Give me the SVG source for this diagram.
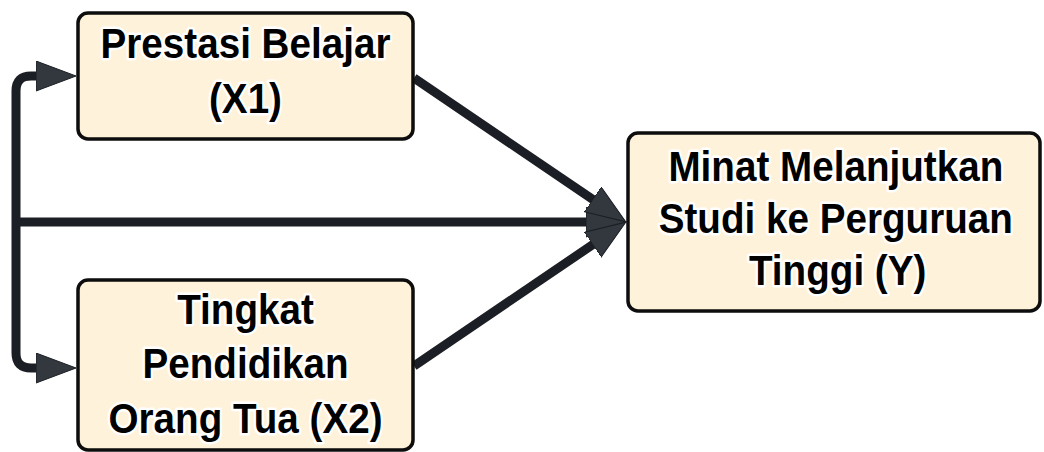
<svg xmlns="http://www.w3.org/2000/svg" width="1044" height="452" viewBox="0 0 1044 452">
<style>
.box{fill:#FFF2DA;stroke:#0d0d0d;stroke-width:3.5}
.lbl{font-family:"Liberation Sans",Arial,sans-serif;font-weight:bold;font-size:42px;fill:#000;stroke:#fff;stroke-width:5;stroke-linejoin:round;paint-order:stroke;text-anchor:middle}
.edge{fill:none;stroke:#1b1e24;stroke-width:9}
</style>
<defs>
<marker id="ah" markerUnits="userSpaceOnUse" markerWidth="42" markerHeight="32" refX="10" refY="15" orient="auto" viewBox="0 0 42 32">
<path d="M0,0 L40,15 L0,30 z" fill="#33383f" stroke="#1b1e24" stroke-width="1"/>
</marker>
</defs>
<rect width="1044" height="452" fill="#fff"/>
<g id="connectors">
<path class="edge" d="M16,222 V91 Q16,76 31,76 H46" marker-end="url(#ah)"/>
<path class="edge" d="M16,222 V353 Q16,368 31,368 H46" marker-end="url(#ah)"/>
<path class="edge" d="M16,222 H596" marker-end="url(#ah)"/>
<path class="edge" d="M414,78 L601,205" marker-end="url(#ah)"/>
<path class="edge" d="M414,366 L601,239" marker-end="url(#ah)"/>
</g>
<g id="x1">
<rect class="box" x="78" y="13" width="335" height="126" rx="10"/>
<g transform="matrix(0.92,0,0,1,19.64,0)">
<text class="lbl" x="245.5" y="58">Prestasi Belajar</text>
<text class="lbl" x="245.5" y="113">(X1)</text>
</g>
</g>
<g id="x2">
<rect class="box" x="78" y="280" width="335" height="170" rx="10"/>
<g transform="matrix(0.92,0,0,1,19.64,0)">
<text class="lbl" x="245.5" y="324">Tingkat</text>
<text class="lbl" x="245.5" y="378">Pendidikan</text>
<text class="lbl" x="245.5" y="433">Orang Tua (X2)</text>
</g>
</g>
<g id="y">
<rect class="box" x="628" y="133" width="412" height="178" rx="10"/>
<g transform="matrix(0.92,0,0,1,66.72,0)">
<text class="lbl" x="836" y="181">Minat Melanjutkan</text>
<text class="lbl" x="836" y="233">Studi ke Perguruan</text>
<text class="lbl" x="838" y="285">Tinggi (Y)</text>
</g>
</g>
</svg>
